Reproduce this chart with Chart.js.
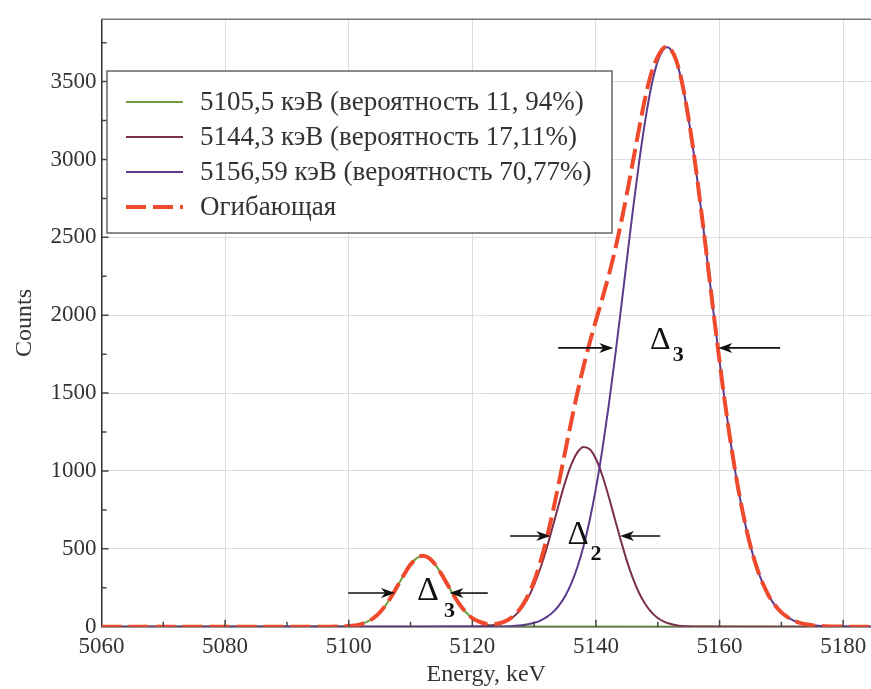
<!DOCTYPE html>
<html>
<head>
<meta charset="utf-8">
<script src="https://cdn.jsdelivr.net/npm/chart.js@4/dist/chart.umd.min.js"></script>
<style>
  html, body { margin: 0; padding: 0; background: #fff; }
  #spectrumChart { display: block; }
</style>
</head>
<body>
<canvas id="spectrumChart" width="871" height="689"></canvas>
<script>
// Values: energy in keV, counts per channel
const greenEnergy = [5060, 5098, 5099, 5100, 5101, 5102, 5103, 5104, 5105, 5106, 5107, 5108, 5109, 5110, 5111,
    5112, 5113, 5114, 5115, 5116, 5117, 5118, 5119, 5120, 5121, 5122, 5123, 5124, 5125, 5126, 5185];
const greenCounts = [0, 0.7, 1.7, 4, 8.5, 17, 32, 55, 91, 139, 200, 269, 338, 399, 440,
    455, 440, 399, 338, 269, 200, 139, 91, 55, 32, 17, 8.5, 4, 1.7, 0.7, 0];

const maroonEnergy = [5060, 5121, 5122, 5123, 5124, 5125, 5126, 5127, 5128, 5129, 5130, 5131, 5132, 5133, 5134,
    5135, 5136, 5137, 5138, 5139, 5140, 5141, 5142, 5143, 5144, 5145, 5146, 5147, 5148, 5149, 5150,
    5151, 5152, 5153, 5154, 5155, 5156, 5185];
const maroonCounts = [0, 1.9, 3.9, 7.7, 14.5, 26.3, 45.7, 75.9, 120.8, 184, 268, 375, 501, 642, 788,
    925, 1040, 1119, 1154, 1139, 1077, 974, 844, 700, 557, 423, 309, 215, 144, 92, 56,
    33, 18.5, 10, 5.1, 2.5, 1.2, 0];

const purpleEnergy = [5060, 5123, 5124, 5125, 5126, 5127, 5128, 5129, 5130, 5131, 5132, 5133, 5134, 5135, 5136,
    5137, 5138, 5139, 5140, 5141, 5142, 5143, 5144, 5145, 5146, 5147, 5148, 5149, 5150, 5151, 5151.5,
    5152, 5153, 5154, 5155, 5156, 5157, 5158, 5159, 5160, 5161, 5162, 5163, 5164, 5165, 5166,
    5167, 5168, 5169, 5170, 5171, 5172, 5173, 5174, 5175, 5176, 5177, 5178, 5179, 5180, 5185];
const purpleCounts = [0, 0.5, 1.0, 1.9, 3.3, 5.6, 9.5, 15.6, 25, 39.5, 61, 92, 136, 196, 277,
    383, 518, 687, 890, 1129, 1402, 1703, 2025, 2356, 2682, 2988, 3258, 3477, 3631, 3710, 3720,
    3710, 3631, 3477, 3258, 2988, 2682, 2356, 2025, 1703, 1402, 1129, 890, 687, 518, 383,
    277, 196, 136, 92, 61, 39.5, 25, 15.6, 9.5, 5.6, 3.3, 1.9, 1.0, 0.5, 0];

const envelopeEnergy = [5060, 5097, 5098, 5099, 5100, 5101, 5102, 5103, 5104, 5105, 5106, 5107, 5108, 5109, 5110,
    5111, 5112, 5113, 5114, 5115, 5116, 5117, 5118, 5119, 5120, 5121, 5122, 5123, 5124, 5125, 5126,
    5127, 5128, 5129, 5130, 5131, 5132, 5133, 5134, 5135, 5136, 5137, 5138, 5139, 5140, 5141, 5142,
    5143, 5144, 5145, 5146, 5147, 5148, 5149, 5150, 5151, 5151.5, 5152, 5153, 5154, 5155, 5156,
    5157, 5158, 5159, 5160, 5161, 5162, 5163, 5164, 5165, 5166, 5167, 5168, 5169, 5170, 5171,
    5172, 5173, 5174, 5175, 5176, 5177, 5178, 5179, 5180, 5185];
const envelopeCounts = [0, 0.3, 0.7, 1.7, 4, 8.5, 17, 32, 55, 91, 139, 200, 269, 338, 399,
    440, 455, 440, 399, 338, 269, 200, 139, 91, 55, 33.9, 20.9, 16.2, 19.5, 29.9, 49.7,
    81.5, 130.3, 199.6, 293, 414.5, 562, 734, 924, 1121, 1317, 1502, 1672, 1826, 1967, 2103, 2246,
    2403, 2582, 2779, 2991, 3203, 3402, 3560, 3660, 3718, 3722, 3714, 3635, 3480, 3259, 2989,
    2682, 2356, 2025, 1703, 1402, 1129, 890, 687, 518, 383, 277, 196, 136, 92, 61,
    39.5, 25, 15.6, 9.5, 5.6, 3.3, 1.9, 1.0, 0.5, 0];

const seriesLabels = [
    '5105,5 кэВ (вероятность 11, 94%)',
    '5144,3 кэВ (вероятность 17,11%)',
    '5156,59 кэВ (вероятность 70,77%)',
    'Огибающая'
];
const xTicks = [5060, 5080, 5100, 5120, 5140, 5160, 5180];
const yTicks = [0, 500, 1000, 1500, 2000, 2500, 3000, 3500];

const serif = '"Liberation Serif", "DejaVu Serif", serif';
const textColor = '#333';

const toPoints = (xs, ys) => xs.map((x, i) => ({ x: x, y: ys[i] }));

// FWHM markers, in data units
const widthArrows = [
    { from: 5099.9, to: 5107.5, at: 216 },
    { from: 5122.5, to: 5116.3, at: 216 },
    { from: 5126.1, to: 5132.6, at: 582 },
    { from: 5150.4, to: 5143.9, at: 582 },
    { from: 5133.9, to: 5142.8, at: 1790 },
    { from: 5169.8, to: 5159.8, at: 1790 }
];
const deltaLabels = [
    { x: 5112.8, y: 229, sub: '3', subX: 5116.3, subY: 100, size: 34 },
    { x: 5137.1, y: 588, sub: '2', subX: 5140.0, subY: 466, size: 33 },
    { x: 5150.4, y: 1839, sub: '3', subX: 5153.3, subY: 1743, size: 32 }
];

const lineStyles = [
    { color: '#6d9f3c', width: 2, dash: [] },
    { color: '#7a2f4c', width: 2, dash: [] },
    { color: '#5a3b8c', width: 2, dash: [] },
    { color: '#f04a2c', width: 4, dash: [20, 7] }
];

// inward ticks, top frame, FWHM arrows and the framed legend
const decorations = {
    id: 'decorations',
    afterDraw(chart) {
        const { ctx, chartArea: a, scales: { x, y } } = chart;
        ctx.save();

        ctx.strokeStyle = '#777';
        ctx.lineWidth = 1.5;
        ctx.beginPath();
        ctx.moveTo(a.left, a.top);
        ctx.lineTo(a.right, a.top);
        ctx.stroke();

        ctx.strokeStyle = '#444';
        ctx.lineWidth = 1.5;
        ctx.beginPath();
        for (let v = 5070; v <= 5180; v += 10) {
            const px = x.getPixelForValue(v);
            const len = v % 20 === 0 ? 7 : 5;
            ctx.moveTo(px, a.bottom);
            ctx.lineTo(px, a.bottom - len);
        }
        for (let v = 250; v <= 3750; v += 250) {
            const py = y.getPixelForValue(v);
            const len = v % 500 === 0 ? 7 : 5;
            ctx.moveTo(a.left, py);
            ctx.lineTo(a.left + len, py);
        }
        ctx.stroke();

        ctx.strokeStyle = '#111';
        ctx.fillStyle = '#111';
        ctx.lineWidth = 1.6;
        widthArrows.forEach(arr => {
            const x0 = x.getPixelForValue(arr.from);
            const x1 = x.getPixelForValue(arr.to);
            const py = y.getPixelForValue(arr.at);
            const dir = Math.sign(x1 - x0);
            ctx.beginPath();
            ctx.moveTo(x0, py);
            ctx.lineTo(x1 - dir * 8, py);
            ctx.stroke();
            ctx.beginPath();
            ctx.moveTo(x1, py);
            ctx.lineTo(x1 - dir * 14, py - 5);
            ctx.lineTo(x1 - dir * 10, py);
            ctx.lineTo(x1 - dir * 14, py + 5);
            ctx.closePath();
            ctx.fill();
        });

        ctx.textAlign = 'center';
        ctx.textBaseline = 'middle';
        deltaLabels.forEach(d => {
            ctx.font = d.size + 'px ' + serif;
            ctx.fillText('Δ', x.getPixelForValue(d.x), y.getPixelForValue(d.y));
            ctx.font = 'bold 22px ' + serif;
            ctx.fillText(d.sub, x.getPixelForValue(d.subX), y.getPixelForValue(d.subY));
        });

        // legend box
        const box = { left: 107, top: 71, right: 612, bottom: 233 };
        ctx.fillStyle = '#fff';
        ctx.fillRect(box.left, box.top, box.right - box.left, box.bottom - box.top);
        ctx.strokeStyle = '#666';
        ctx.lineWidth = 1.5;
        ctx.strokeRect(box.left, box.top, box.right - box.left, box.bottom - box.top);
        const rows = [102, 137, 172, 207];
        ctx.textAlign = 'left';
        ctx.font = '27px ' + serif;
        seriesLabels.forEach((label, i) => {
            const s = lineStyles[i];
            ctx.strokeStyle = s.color;
            ctx.lineWidth = s.width;
            ctx.setLineDash(s.dash);
            ctx.beginPath();
            ctx.moveTo(126, rows[i]);
            ctx.lineTo(183, rows[i]);
            ctx.stroke();
            ctx.setLineDash([]);
            ctx.fillStyle = textColor;
            ctx.fillText(label, 200, rows[i] + 1);
        });

        ctx.restore();
    }
};

const seriesData = [
    toPoints(greenEnergy, greenCounts),
    toPoints(maroonEnergy, maroonCounts),
    toPoints(purpleEnergy, purpleCounts),
    toPoints(envelopeEnergy, envelopeCounts)
];

const config = {
    type: 'line',
    data: {
        datasets: seriesData.map((pts, i) => ({
            label: seriesLabels[i],
            data: pts,
            borderColor: lineStyles[i].color,
            borderWidth: lineStyles[i].width,
            borderDash: lineStyles[i].dash,
            pointRadius: 0,
            fill: false,
            cubicInterpolationMode: 'monotone',
            order: i === 3 ? 0 : 4 - i
        }))
    },
    options: {
        responsive: false,
        animation: false,
        layout: { padding: { top: 19.3, right: 0, left: 0, bottom: 0 } },
        plugins: {
            legend: { display: false },
            tooltip: { enabled: false }
        },
        scales: {
            x: {
                type: 'linear',
                min: 5060,
                max: 5184.5,
                afterBuildTicks: s => { s.ticks = xTicks.map(v => ({ value: v })); },
                afterFit: s => { s.height = 62.3; s.paddingLeft = 0; s.paddingRight = 0; },
                grid: { color: '#dcdcdc', lineWidth: 1, drawTicks: false },
                border: { color: '#333', width: 1.5 },
                ticks: {
                    padding: 6,
                    color: textColor,
                    font: { family: serif, size: 23 },
                    maxRotation: 0,
                    callback: v => String(v)
                },
                title: {
                    display: true,
                    text: 'Energy, keV',
                    color: textColor,
                    font: { family: serif, size: 24 },
                    padding: { top: 0, bottom: 0 }
                }
            },
            y: {
                min: 0,
                max: 3900,
                afterBuildTicks: s => { s.ticks = yTicks.map(v => ({ value: v })); },
                afterFit: s => { s.width = 101.5; s.paddingTop = 0; s.paddingBottom = 0; },
                grid: { color: '#dcdcdc', lineWidth: 1, drawTicks: false },
                border: { color: '#333', width: 1.5 },
                ticks: {
                    padding: 5,
                    color: textColor,
                    font: { family: serif, size: 23 },
                    callback: v => String(v)
                },
                title: {
                    display: true,
                    text: 'Counts',
                    color: textColor,
                    font: { family: serif, size: 24 },
                    padding: { top: 10, bottom: 0 }
                }
            }
        }
    },
    plugins: [decorations]
};

window.onload = () => {
    const ctx = document.getElementById('spectrumChart').getContext('2d');
    new Chart(ctx, config);
};
</script>
</body>
</html>
